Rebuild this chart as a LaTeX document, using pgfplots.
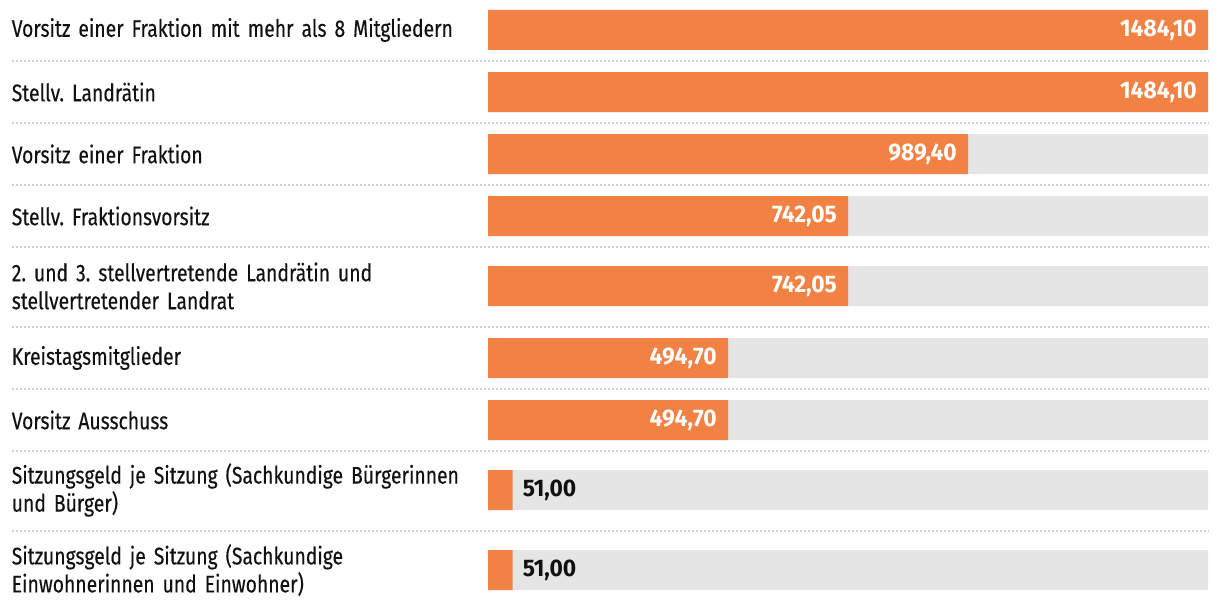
\documentclass[border=0pt]{standalone}
\usepackage{fontspec}
\setmainfont{Fira Sans}[FakeStretch=0.805, FakeBold=0.3]
\newfontfamily\valfont{Fira Sans}[FakeStretch=0.95]
\usepackage{pgfplots}
\usepackage{pgfplotstable}
\pgfplotsset{compat=1.18}
\frenchspacing
\definecolor{barc}{HTML}{F28144}
\definecolor{bgc}{HTML}{E5E5E5}
\definecolor{sepc}{HTML}{D2D2D2}
\definecolor{txt}{HTML}{111111}
\pgfplotstableread{
y v full
30 1484.10 1484.10
92 1484.10 1484.10
154 989.40 1484.10
216 742.05 1484.10
286 742.05 1484.10
358 494.70 1484.10
420 494.70 1484.10
490 51.00 1484.10
570 51.00 1484.10
}\datAll
\pgfplotstableread{
y v
30 1484.10
92 1484.10
154 989.40
216 742.05
286 742.05
358 494.70
420 494.70
}\datBig
\pgfplotstableread{
y v
490 51.00
570 51.00
}\datSmall
\begin{document}
\begin{tikzpicture}
\begin{axis}[
  at={(488pt,0pt)}, anchor=south west,
  scale only axis, width=720pt, height=610pt,
  xmin=0, xmax=1484.1, ymin=0, ymax=610, y dir=reverse,
  axis line style={draw=none}, major tick length=0pt,
  xtick=\empty,
  ytick={30,92,154,216,286,358,420,490,570},
  yticklabels={
    Vorsitz einer Fraktion mit mehr als 8 Mitgliedern,
    Stellv. Landrätin,
    Vorsitz einer Fraktion,
    Stellv. Fraktionsvorsitz,
    {2. und 3. stellvertretende Landrätin und\\stellvertretender Landrat},
    Kreistagsmitglieder,
    Vorsitz Ausschuss,
    {Sitzungsgeld je Sitzung (Sachkundige Bürgerinnen\\und Bürger)},
    {Sitzungsgeld je Sitzung (Sachkundige\\Einwohnerinnen und Einwohner)}
  },
  yticklabel style={text width=468pt, align=left, anchor=east, inner sep=0pt,
    xshift=-8pt, font=\fontsize{24}{28}\selectfont, text=txt},
  clip=false,
  xbar, bar width=40pt,
]
\pgfplotsinvokeforeach{61,123,185,247,327,389,451,531}{
  \draw[sepc, line width=2pt, dash pattern=on 2pt off 2pt] (axis cs:-981.2,#1) -- (axis cs:1484.1,#1);
}
\addplot[xbar, bar shift=0pt, fill=bgc, draw=none] table[x=full, y=y] {\datAll};
\addplot[xbar, bar shift=0pt, fill=barc, draw=none,
  point meta=x,
  nodes near coords={\pgfmathprintnumber[fixed, fixed zerofill, precision=2, use comma, 1000 sep={}, assume math mode=true]{\pgfplotspointmeta}},
  every node near coord/.append style={anchor=east, inner sep=0pt, xshift=-11pt, text=white, font=\valfont\fontsize{24}{26}\selectfont\bfseries}
] table[x=v, y=y] {\datBig};
\addplot[xbar, bar shift=0pt, fill=barc, draw=none,
  point meta=x,
  nodes near coords={\pgfmathprintnumber[fixed, fixed zerofill, precision=2, use comma, 1000 sep={}, assume math mode=true]{\pgfplotspointmeta}},
  every node near coord/.append style={anchor=west, inner sep=0pt, xshift=10pt, text=txt, font=\valfont\fontsize{24}{26}\selectfont\bfseries}
] table[x=v, y=y] {\datSmall};
\end{axis}
\pgfresetboundingbox
\path[use as bounding box] (0,0) rectangle (1220pt,610pt);
\end{tikzpicture}
\end{document}
